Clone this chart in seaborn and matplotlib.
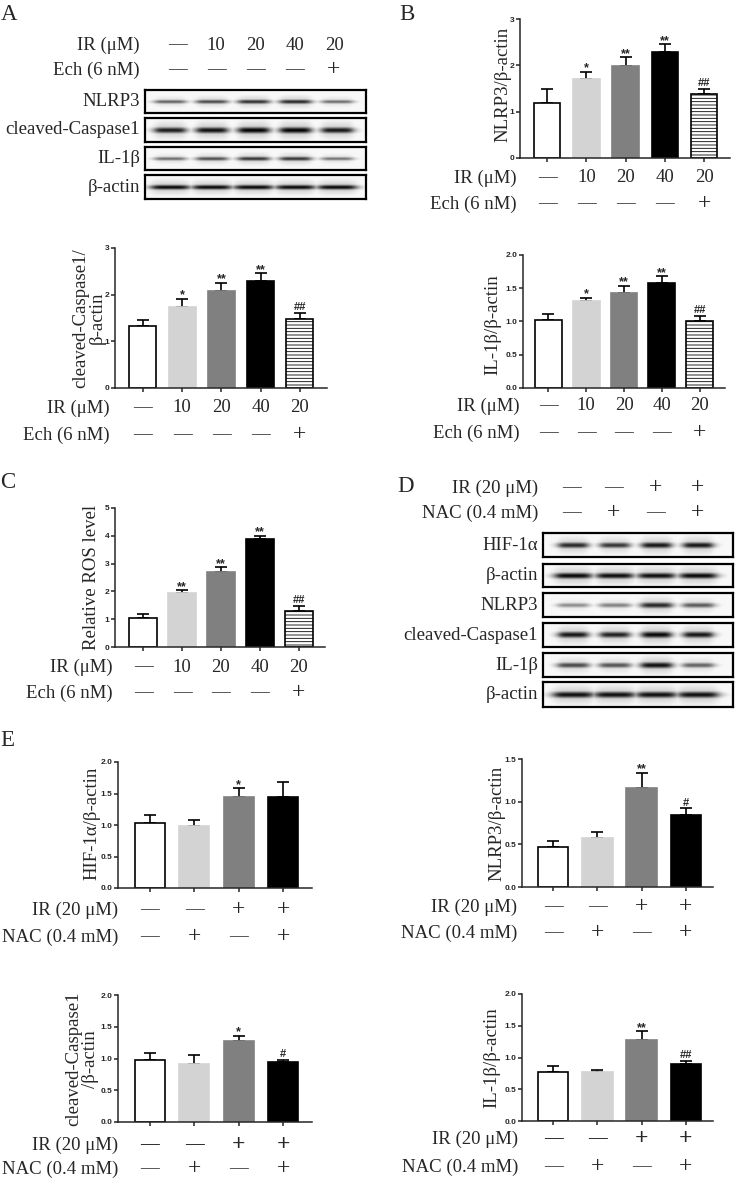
import numpy as np
import pandas as pd
import seaborn as sns
import matplotlib.pyplot as plt
from matplotlib.ticker import FormatStrFormatter
from matplotlib.transforms import blended_transform_factory

W, H = 736, 1180
FS = 13.5  # text size of the row labels

# ---- values ----
groups_ech = ['Control', 'IR 10', 'IR 20', 'IR 40', 'IR 20 + Ech']
ir_doses = ['—', '10', '20', '40', '20']
ech_flags = ['—', '—', '—', '—', '+']
colors_ech = ['white', '#d3d3d3', '#808080', 'black', 'white']

casp1_mean = [1.33, 1.74, 2.07, 2.30, 1.48]
casp1_err = [0.13, 0.17, 0.19, 0.16, 0.13]
casp1_sig = ['', '*', '**', '**', '##']

nlrp3_mean = [1.19, 1.71, 1.99, 2.29, 1.38]
nlrp3_err = [0.30, 0.15, 0.19, 0.17, 0.11]
nlrp3_sig = ['', '*', '**', '**', '##']

il1b_mean = [1.02, 1.31, 1.43, 1.58, 1.01]
il1b_err = [0.09, 0.05, 0.11, 0.10, 0.08]
il1b_sig = ['', '*', '**', '**', '##']

ros_mean = [1.04, 1.94, 2.70, 3.88, 1.30]
ros_err = [0.13, 0.10, 0.18, 0.13, 0.17]
ros_sig = ['', '**', '**', '**', '##']

groups_nac = ['Control', 'NAC', 'IR', 'IR + NAC']
ir_flags = ['—', '—', '+', '+']
nac_flags = ['—', '+', '—', '+']
colors_nac = ['white', '#d3d3d3', '#808080', 'black']

hif_nac_mean = [1.03, 0.98, 1.45, 1.44]
hif_nac_err = [0.13, 0.10, 0.13, 0.24]
hif_nac_sig = ['', '', '*', '']

nlrp3_nac_mean = [0.47, 0.58, 1.16, 0.84]
nlrp3_nac_err = [0.07, 0.07, 0.18, 0.08]
nlrp3_nac_sig = ['', '', '**', '#']

casp1_nac_mean = [0.97, 0.92, 1.27, 0.94]
casp1_nac_err = [0.12, 0.14, 0.09, 0.04]
casp1_nac_sig = ['', '', '*', '#']

il1b_nac_mean = [0.77, 0.77, 1.27, 0.89]
il1b_nac_err = [0.09, 0.04, 0.14, 0.06]
il1b_nac_sig = ['', '', '**', '##']

# western blot band darkness per lane (0 = none, 1 = saturated)
blot_a_rows = ['NLRP3', 'cleaved-Caspase1', 'IL-1β', 'β-actin']
blot_a_bands = [[0.62, 0.72, 0.82, 0.85, 0.58],
                [0.90, 0.95, 1.00, 1.00, 0.92],
                [0.58, 0.70, 0.80, 0.80, 0.55],
                [0.98, 0.98, 0.98, 0.98, 0.98]]

blot_d_rows = ['HIF-1α', 'β-actin', 'NLRP3', 'cleaved-Caspase1', 'IL-1β', 'β-actin']
blot_d_bands = [[0.85, 0.80, 0.92, 0.92],
                [0.98, 0.96, 0.96, 0.98],
                [0.45, 0.50, 0.85, 0.65],
                [0.92, 0.88, 0.98, 0.92],
                [0.72, 0.68, 0.95, 0.62],
                [0.95, 0.95, 0.95, 0.95]]

sns.set_style('ticks')
plt.rcParams['font.family'] = ['Liberation Serif', 'DejaVu Serif']
plt.rcParams['hatch.linewidth'] = 0.6

fig = plt.figure(figsize=(W / 100, H / 100), dpi=100)


def px_rect(x0, y0, x1, y1):
    # pixel box (left, top, right, bottom) -> figure fraction
    return [x0 / W, 1 - y1 / H, (x1 - x0) / W, (y1 - y0) / H]


def fig_text(x, y, s, **kw):
    fig.text(x / W, 1 - y / H, s, **kw)


def sym_size(s):
    # the plus signs in the original are drawn larger than the text
    return FS + 3.5 if s == '+' else FS


def bar_chart(rect, xlim, groups, means, errs, sigs, colors, ymax, ystep, fmt,
              width=0.7, hatch_last=False):
    ax = fig.add_axes(px_rect(*rect))
    df = pd.DataFrame({'group': groups, 'value': means})
    sns.barplot(data=df, x='group', y='value', hue='group',
                palette=dict(zip(groups, colors)), width=width, errorbar=None,
                legend=False, ax=ax)
    for p, c in zip(ax.patches, colors):
        p.set_edgecolor('black' if c in ('white', 'black') else c)
        p.set_linewidth(1.2)
        p.set_zorder(2)
    if hatch_last:
        ax.patches[-1].set_hatch('-----')
    x = np.arange(len(means))
    ax.errorbar(x, means, yerr=[np.zeros(len(errs)), errs], fmt='none',
                ecolor='black', elinewidth=1.2, capsize=4.5, capthick=1.2,
                zorder=1)
    for i, (m, e, s) in enumerate(zip(means, errs, sigs)):
        if s:
            # '*' sits high in its box, '#' sits on the baseline
            dy = -2 if s.startswith('*') else 0.5
            ax.annotate(s, (i, m + e), xytext=(0, dy), textcoords='offset points',
                        ha='center', va='bottom', fontsize=9 if s.startswith('*') else 8,
                        fontweight='bold', family='Liberation Sans',
                        annotation_clip=False)
    ax.set_xlim(*xlim)
    ax.set_ylim(0, ymax)
    ax.set_yticks(np.arange(0, ymax + 1e-9, ystep))
    ax.yaxis.set_major_formatter(FormatStrFormatter(fmt))
    ax.set_xticks(x)
    ax.set_xticklabels([])
    ax.set_xlabel('')
    ax.set_ylabel('')
    sns.despine(ax=ax)
    for sp in ax.spines.values():
        sp.set_linewidth(1.1)
    ax.tick_params(axis='both', length=3, width=1.1, pad=1, labelsize=6)
    for lab in ax.get_yticklabels():
        lab.set_fontweight('bold')
        lab.set_family('Liberation Sans')
    return ax


def treat_rows(ax, rows, ys, label_x, bold_first=False):
    tr = blended_transform_factory(ax.transData, fig.transFigure)
    for k, ((label, vals), y) in enumerate(zip(rows, ys)):
        fig_text(label_x, y, label, ha='right', va='center', fontsize=FS)
        wt = 'bold' if (bold_first and k == 0) else 'normal'
        for i, v in enumerate(vals):
            ax.text(i, 1 - y / H, v, transform=tr, ha='center', va='center',
                    fontsize=sym_size(v), fontweight=wt, clip_on=False)


def header_rows(rows, ys, label_x, col_x):
    for (label, vals), y in zip(rows, ys):
        fig_text(label_x, y, label, ha='right', va='center', fontsize=FS)
        for cx, v in zip(col_x, vals):
            fig_text(cx, y, v, ha='center', va='center', fontsize=sym_size(v))


def blot(rect, bands, first, last, label, label_x, thick=0.10, spread=0.38):
    ax = fig.add_axes(px_rect(*rect))
    h, w = 48, 440
    yy, xx = np.mgrid[0:h, 0:w]
    img = np.full((h, w), 0.03)
    centers = np.linspace(first, last, len(bands)) * w
    step = centers[1] - centers[0]
    for c, a in zip(centers, bands):
        t = thick * h * (0.6 + 0.6 * a)
        horiz = 1 / (1 + ((xx - c) / (spread * step)) ** 6)
        core = np.exp(-((yy - h * 0.5) / t) ** 2)
        halo = 0.22 * np.exp(-((yy - h * 0.5) / (2.8 * t)) ** 2)
        img = np.maximum(img, a * horiz * np.maximum(core, halo))
    ax.imshow(img, cmap='gray_r', vmin=0, vmax=1, aspect='auto',
              interpolation='bilinear')
    ax.set_xticks([])
    ax.set_yticks([])
    for sp in ax.spines.values():
        sp.set_visible(True)
        sp.set_linewidth(1.6)
        sp.set_color('black')
    fig_text(label_x, (rect[1] + rect[3]) / 2, label, ha='right', va='center',
             fontsize=FS)


# ---- panel letters ----
for letter, (lx, ly) in zip('ABCDE', [(9, 14), (407, 14), (8, 482), (406, 487), (7, 741)]):
    fig_text(lx, ly, letter, ha='center', va='center', fontsize=16.5)

# ---- A: blots ----
header_rows([('IR (μM)', ir_doses), ('Ech (6 nM)', ech_flags)], [45, 70], 140,
            np.linspace(177, 334, 5))
a_boxes = [(145, 90, 366, 113), (145, 118, 366, 142), (145, 147, 366, 170),
           (145, 175, 366, 199)]
a_thick = [0.085, 0.11, 0.085, 0.085]
a_spread = [0.38, 0.38, 0.38, 0.46]
for box, name, bands, tk, sp in zip(a_boxes, blot_a_rows, blot_a_bands, a_thick, a_spread):
    blot(box, bands, 0.113, 0.869, name, 140, thick=tk, spread=sp)

# ---- A: cleaved-Caspase1 quantification ----
ax = bar_chart((115, 248, 327, 388), (-0.71, 4.69), groups_ech, casp1_mean,
               casp1_err, casp1_sig, colors_ech, 3, 1, '%d', width=0.69,
               hatch_last=True)
treat_rows(ax, [('IR (μM)', ir_doses), ('Ech (6 nM)', ech_flags)], [408, 435], 110)
fig_text(89, 318, 'cleaved-Caspase1/\nβ-actin', rotation=90, ha='center',
         va='center', fontsize=FS, multialignment='center', linespacing=1.0)

# ---- B: NLRP3 ----
ax = bar_chart((520, 19, 730, 158), (-0.69, 4.66), groups_ech, nlrp3_mean,
               nlrp3_err, nlrp3_sig, colors_ech, 3, 1, '%d', width=0.675,
               hatch_last=True)
treat_rows(ax, [('IR (μM)', ir_doses), ('Ech (6 nM)', ech_flags)], [178, 204], 517)
fig_text(503, 84, 'NLRP3/β-actin', rotation=90, ha='center', va='center', fontsize=FS)

# ---- B: IL-1beta ----
ax = bar_chart((523, 255, 725, 388), (-0.66, 4.66), groups_ech, il1b_mean,
               il1b_err, il1b_sig, colors_ech, 2, 0.5, '%.1f', width=0.71,
               hatch_last=True)
treat_rows(ax, [('IR (μM)', ir_doses), ('Ech (6 nM)', ech_flags)], [406, 433], 520)
fig_text(493, 325, 'IL-1β/β-actin', rotation=90, ha='center', va='center', fontsize=FS)

# ---- C: ROS ----
ax = bar_chart((115, 508, 325, 647), (-0.72, 4.67), groups_ech, ros_mean,
               ros_err, ros_sig, colors_ech, 5, 1, '%d', width=0.7,
               hatch_last=True)
treat_rows(ax, [('IR (μM)', ir_doses), ('Ech (6 nM)', ech_flags)], [667, 693], 113)
fig_text(92, 577, 'Relative ROS level', rotation=90, ha='center', va='center', fontsize=FS)

# ---- D: blots ----
header_rows([('IR (20 μM)', ir_flags), ('NAC (0.4 mM)', nac_flags)], [488, 513], 538,
            np.linspace(571, 698, 4))
d_boxes = [(543, 533, 733, 557), (543, 564, 733, 587), (543, 593, 733, 617),
           (543, 623, 733, 647), (543, 653, 733, 677), (543, 682, 733, 707)]
d_spread = [0.36, 0.44, 0.38, 0.36, 0.38, 0.48]
for box, name, bands, sp in zip(d_boxes, blot_d_rows, blot_d_bands, d_spread):
    blot(box, bands, 0.158, 0.816, name, 538, thick=0.11, spread=sp)

# ---- E: quantifications ----
nac_rows = [('IR (20 μM)', ir_flags), ('NAC (0.4 mM)', nac_flags)]

ax = bar_chart((118, 762, 312, 888), (-0.72, 3.65), groups_nac, hif_nac_mean,
               hif_nac_err, hif_nac_sig, colors_nac, 2, 0.5, '%.1f', width=0.68)
treat_rows(ax, nac_rows, [910, 937], 118)
fig_text(92, 823, 'HIF-1α/β-actin', rotation=90, ha='center', va='center', fontsize=FS)

ax = bar_chart((522, 759, 713, 887), (-0.7, 3.61), groups_nac, nlrp3_nac_mean,
               nlrp3_nac_err, nlrp3_nac_sig, colors_nac, 1.5, 0.5, '%.1f', width=0.69)
treat_rows(ax, nac_rows, [907, 933], 517)
fig_text(497, 823, 'NLRP3/β-actin', rotation=90, ha='center', va='center', fontsize=FS)

ax = bar_chart((118, 995, 312, 1122), (-0.72, 3.65), groups_nac, casp1_nac_mean,
               casp1_nac_err, casp1_nac_sig, colors_nac, 2, 0.5, '%.1f', width=0.68)
treat_rows(ax, nac_rows, [1145, 1169], 118, bold_first=True)
fig_text(82, 1059, 'cleaved-Caspase1\n/β-actin', rotation=90, ha='center',
         va='center', fontsize=FS, multialignment='center', linespacing=1.0)

ax = bar_chart((522, 994, 713, 1121), (-0.7, 3.61), groups_nac, il1b_nac_mean,
               il1b_nac_err, il1b_nac_sig, colors_nac, 2, 0.5, '%.1f', width=0.69)
treat_rows(ax, nac_rows, [1139, 1167], 518, bold_first=True)
fig_text(492, 1058, 'IL-1β/β-actin', rotation=90, ha='center', va='center', fontsize=FS)

fig.savefig('out.png', dpi=100, facecolor='white')
